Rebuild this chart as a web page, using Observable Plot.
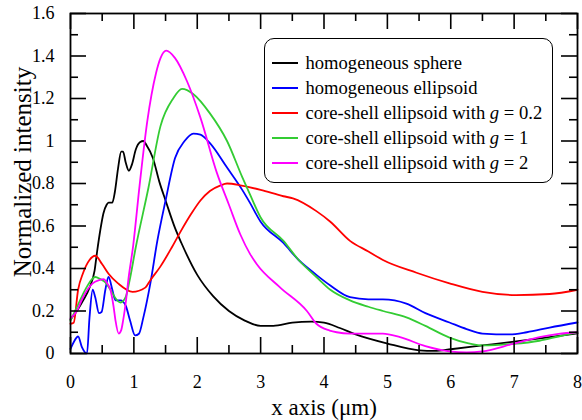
<!DOCTYPE html>
<html><head><meta charset="utf-8">
<script src="https://cdn.jsdelivr.net/npm/d3@7"></script>
<script src="https://cdn.jsdelivr.net/npm/@observablehq/plot@0.6"></script>
<style>
body{margin:0;background:#fff;}
#wrap{position:relative;width:582px;height:420px;font-family:'Liberation Serif','Times New Roman',serif;}
.legend{position:absolute;left:264px;top:38px;width:289px;height:145px;box-sizing:border-box;border:1.5px solid #000;border-radius:10px;background:#fff;}
.row{position:absolute;left:0;height:20px;display:flex;align-items:center;font-size:18.6px;white-space:nowrap;color:#000;font-family:'Liberation Serif';}
.sw{width:26px;height:2px;margin-left:6.5px;margin-right:8px;}
.lab{position:absolute;white-space:nowrap;color:#000;line-height:1;transform:translate(-50%,-50%);font-family:'Liberation Serif';}
</style></head><body><div id="wrap"></div>
<script>
// ---- data ----
const seriesNames = ["homogeneous sphere", "homogeneous ellipsoid", "core-shell ellipsoid with", "core-shell ellipsoid with", "core-shell ellipsoid with"];
const gValues = [null, null, "0.2", "1", "2"];
const seriesColors = ["#000000", "#0000ff", "#ff0000", "#33cc33", "#ff00ff"];

const sphereX = [0,0.1,0.2,0.3,0.38,0.42,0.47,0.52,0.57,0.6,0.66,0.7,0.75,0.8,0.83,0.87,0.92,0.97,1.03,1.1,1.15,1.2,1.3,1.4,1.5,1.65,1.75,2.0,2.25,2.5,2.75,3.0,3.2,3.5,3.8,4.0,4.25,4.5,5.0,5.5,5.75,6.0,6.5,7.0,7.5,8.0];
const sphereY = [0.16,0.2,0.25,0.31,0.39,0.48,0.58,0.66,0.70,0.71,0.71,0.76,0.87,0.95,0.95,0.9,0.86,0.89,0.96,0.995,1.0,0.98,0.92,0.81,0.72,0.59,0.52,0.37,0.27,0.2,0.155,0.13,0.13,0.145,0.15,0.145,0.12,0.09,0.047,0.015,0.012,0.02,0.038,0.056,0.075,0.095];

const ellipsoidX = [0,0.05,0.12,0.18,0.26,0.30,0.35,0.39,0.45,0.49,0.55,0.60,0.66,0.71,0.79,0.87,0.94,1.02,1.08,1.15,1.26,1.37,1.5,1.65,1.8,1.94,2.05,2.2,2.47,2.71,2.83,3.0,3.36,3.6,3.88,4.1,4.41,4.7,4.93,5.3,5.6,5.98,6.25,6.5,6.93,7.2,7.56,8.0];
const ellipsoidY = [0.022,0.053,0.08,0.03,0.0,0.17,0.30,0.265,0.19,0.195,0.30,0.36,0.30,0.25,0.25,0.226,0.155,0.085,0.093,0.17,0.33,0.53,0.72,0.92,1.0,1.035,1.03,0.99,0.875,0.77,0.71,0.62,0.52,0.44,0.37,0.32,0.265,0.255,0.255,0.235,0.19,0.146,0.115,0.094,0.09,0.1,0.122,0.146];

const g02X = [0,0.05,0.12,0.2,0.3,0.39,0.5,0.6,0.75,0.98,1.18,1.26,1.42,1.6,1.73,1.9,2.05,2.2,2.36,2.47,2.7,3.0,3.36,3.51,3.88,4.1,4.41,4.7,4.93,5.46,5.98,6.5,7.03,7.56,8.0];
const g02Y = [0.14,0.145,0.30,0.38,0.44,0.46,0.42,0.375,0.33,0.29,0.31,0.345,0.41,0.50,0.57,0.655,0.72,0.765,0.79,0.80,0.79,0.77,0.74,0.73,0.67,0.62,0.53,0.48,0.44,0.38,0.33,0.29,0.275,0.28,0.30];

const g1X = [0,0.12,0.25,0.39,0.47,0.55,0.65,0.71,0.79,0.87,0.93,1.03,1.23,1.42,1.62,1.76,1.94,2.2,2.47,2.71,2.83,3.0,3.36,3.6,3.88,4.1,4.41,4.7,4.93,5.3,5.6,5.98,6.25,6.5,6.98,7.4,7.7,8.0];
const g1Y = [0.155,0.23,0.31,0.36,0.35,0.335,0.29,0.26,0.24,0.265,0.34,0.5,0.78,1.07,1.2,1.245,1.22,1.13,1.0,0.83,0.75,0.64,0.53,0.44,0.36,0.30,0.25,0.22,0.20,0.17,0.13,0.075,0.05,0.038,0.045,0.06,0.08,0.1];

const g2X = [0,0.1,0.19,0.35,0.45,0.52,0.58,0.63,0.68,0.71,0.76,0.8,0.83,0.88,0.91,0.99,1.09,1.21,1.35,1.42,1.51,1.65,1.84,2.05,2.31,2.5,2.68,2.83,2.94,3.31,3.73,3.88,4.09,4.2,4.41,4.93,5.2,5.6,5.98,6.25,6.5,6.98,7.4,7.7,8.0];
const g2Y = [0.165,0.2,0.26,0.33,0.345,0.35,0.33,0.30,0.22,0.155,0.094,0.11,0.155,0.26,0.34,0.51,0.79,1.09,1.32,1.39,1.425,1.39,1.28,1.11,0.85,0.70,0.56,0.47,0.42,0.31,0.20,0.14,0.108,0.10,0.094,0.094,0.077,0.035,0.01,0.005,0.01,0.045,0.077,0.092,0.1];

const xMajor = [0,1,2,3,4,5,6,7,8];
const xMinor = [0.5,1.5,2.5,3.5,4.5,5.5,6.5,7.5];
const yMajor = [0,0.2,0.4,0.6,0.8,1,1.2,1.4,1.6];
const yMinor = [0.1,0.3,0.5,0.7,0.9,1.1,1.3,1.5];
const xLabel = "x axis (\u03bcm)";
const yLabel = "Normalized intensity";

// ---- build ----
const allX = [sphereX, ellipsoidX, g02X, g1X, g2X];
const allY = [sphereY, ellipsoidY, g02Y, g1Y, g2Y];
const rows = [];
allX.forEach((xs, i) => xs.forEach((x, j) => rows.push({series: i, x, y: allY[i][j]})));

const W = 582, H = 420, mT = 13, mB = 67, mL = 70, mR = 5;
const innerH = H - mT - mB, innerW = W - mL - mR;
const major = 16, minor = 8, sw = 1.6;
const font = "Liberation Serif";

const marks = [];
for (let i = 0; i < 5; i++) {
  marks.push(Plot.line(rows.filter(d => d.series === i), {x: "x", y: "y", stroke: seriesColors[i], strokeWidth: 1.8, curve: "monotone-x"}));
}
marks.push(
  Plot.ruleX(xMajor, {x: d => d, insetTop: innerH - major, strokeWidth: sw}),
  Plot.ruleX(xMajor, {x: d => d, insetBottom: innerH - major, strokeWidth: sw}),
  Plot.ruleX(xMinor, {x: d => d, insetTop: innerH - minor, strokeWidth: sw}),
  Plot.ruleX(xMinor, {x: d => d, insetBottom: innerH - minor, strokeWidth: sw}),
  Plot.ruleY(yMajor, {y: d => d, insetRight: innerW - major, strokeWidth: sw}),
  Plot.ruleY(yMajor, {y: d => d, insetLeft: innerW - major, strokeWidth: sw}),
  Plot.ruleY(yMinor, {y: d => d, insetRight: innerW - minor, strokeWidth: sw}),
  Plot.ruleY(yMinor, {y: d => d, insetLeft: innerW - minor, strokeWidth: sw}),
  Plot.frame({strokeWidth: 1.8}),
  Plot.axisX(xMajor, {tickSize: 0, tickPadding: 22, fontSize: 18, tickFormat: d => String(d), label: null, fontFamily: font}),
  Plot.axisY(yMajor, {tickSize: 0, tickPadding: 16, fontSize: 18, tickFormat: d => String(d), label: null, fontFamily: font})
);

const chart = Plot.plot({
  width: W, height: H,
  marginTop: mT, marginBottom: mB, marginLeft: mL, marginRight: mR,
  x: {domain: [0, 8]},
  y: {domain: [0, 1.6]},
  style: {fontFamily: font, color: "#000", background: "#fff", overflow: "visible"},
  marks
});
const wrap = document.getElementById("wrap");
wrap.appendChild(chart);

const xl = document.createElement("div");
xl.className = "lab";
xl.style.fontSize = "23px";
xl.style.left = "324px"; xl.style.top = "407px";
xl.textContent = xLabel;
wrap.appendChild(xl);

const yl = document.createElement("div");
yl.className = "lab";
yl.style.fontSize = "25px";
yl.style.left = "22px"; yl.style.top = "172px";
yl.style.transform = "translate(-50%,-50%) rotate(-90deg)";
yl.textContent = yLabel;
wrap.appendChild(yl);

const leg = document.createElement("div");
leg.className = "legend";
seriesNames.forEach((name, i) => {
  const r = document.createElement("div");
  r.className = "row";
  r.style.top = (13.5 + i * 25.2) + "px";
  const s = document.createElement("div");
  s.className = "sw";
  s.style.background = seriesColors[i];
  const t = document.createElement("span");
  t.innerHTML = name + (gValues[i] ? " <i>g</i> = " + gValues[i] : "");
  r.appendChild(s); r.appendChild(t);
  leg.appendChild(r);
});
wrap.appendChild(leg);
</script></body></html>
